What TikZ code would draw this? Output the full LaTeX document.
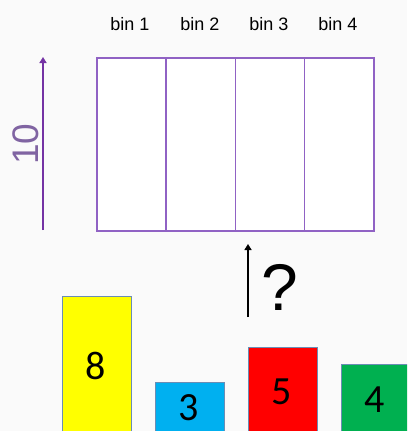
\documentclass[tikz,border=0pt]{standalone}
\usepackage{fontspec}
\setmainfont{Liberation Sans}
\newfontfamily\digitfont{Carlito}
\usetikzlibrary{arrows.meta}
\definecolor{bgc}{HTML}{FAFAFA}
\definecolor{binpurple}{HTML}{9062C4}
\definecolor{arrowpurple}{HTML}{7433A4}
\definecolor{tenpurple}{HTML}{8064A2}
\definecolor{barborder}{HTML}{6A8DB4}
\definecolor{baryellow}{HTML}{FFFF00}
\definecolor{barblue}{HTML}{00B0F0}
\definecolor{barred}{HTML}{FF0000}
\definecolor{bargreen}{HTML}{00B050}
\begin{document}
\begin{tikzpicture}[x=1pt,y=-1pt,
  bincell/.style={draw=binpurple,line width=1.6pt,fill=white,minimum width=69.25pt,minimum height=173pt,inner sep=0pt,anchor=north west},
  binlabel/.style={font=\fontsize{18}{20}\selectfont,inner sep=0pt},
  bar/.style={draw=barborder,line width=1pt,minimum width=69pt,inner sep=0pt,anchor=north west},
  barlabel/.style={font=\digitfont\fontsize{40}{44}\selectfont,inner sep=0pt}]
\useasboundingbox (0,0) rectangle (407,431);
\clip (0,0) rectangle (407,431);
\fill[bgc] (0,0) rectangle (407,431);
% bins
\node[bincell] (b1) at (96,57) {};
\node[bincell] (b2) at (165.25,57) {};
\node[bincell] (b3) at (234.5,57) {};
\node[bincell] (b4) at (303.75,57) {};
\node[binlabel] (l1) at (130,24) {bin 1};
\node[binlabel] (l2) at (200,24) {bin 2};
\node[binlabel] (l3) at (269,24) {bin 3};
\node[binlabel] (l4) at (338,24) {bin 4};
% height arrow
\coordinate (hb) at (43,230);
\coordinate (ht) at (43,57);
\draw[arrowpurple,line width=2.5pt,-{Triangle[length=6pt,width=7pt]}] (hb) -- (ht);
\node[tenpurple,rotate=90,font=\fontsize{37}{40}\selectfont,inner sep=0pt] (ten) at (26,144) {10};
% question arrow
\coordinate (qb) at (248,317);
\coordinate (qt) at (248,244);
\draw[black,line width=2.4pt,-{Triangle[length=6pt,width=7pt]}] (qb) -- (qt);
\node[font=\fontsize{66}{70}\selectfont,inner sep=0pt] (q) at (280,287) {?};
% bars
\node[bar,fill=baryellow,minimum height=150pt] (y) at (62,296) {};
\node[bar,fill=barblue,minimum height=60pt] (bl) at (155,382) {};
\node[bar,fill=barred,minimum height=100pt] (r) at (248,347) {};
\node[bar,fill=bargreen,minimum height=80pt] (g) at (341,364) {};
\node[barlabel] (n8) at (96,366) {8};
\node[barlabel] (n3) at (189,408) {3};
\node[barlabel] (n5) at (282,392) {5};
\node[barlabel] (n4) at (375,400) {4};
\end{tikzpicture}
\end{document}
